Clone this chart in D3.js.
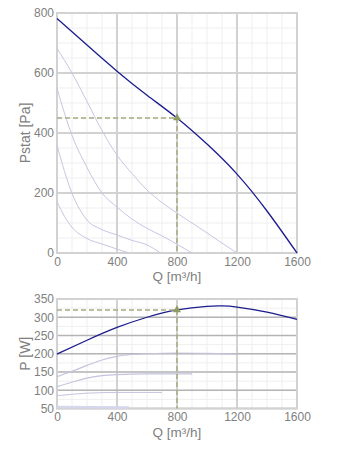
<!DOCTYPE html>
<html>
<head>
<meta charset="utf-8">
<script src="https://cdn.jsdelivr.net/npm/d3@7"></script>
<style>
  html, body { margin: 0; padding: 0; background: #fff; }
  svg { display: block; font-family: "Liberation Sans", Arial, sans-serif; }
</style>
</head>
<body>
<svg id="chart" width="350" height="454"></svg>
<script>
// Fan curves: airflow Q [m³/h] against static pressure and power
const qTicks = [0, 400, 800, 1200, 1600];
const pstatTicks = [0, 200, 400, 600, 800];
const powerTicks = [50, 100, 150, 200, 250, 300, 350];

// Static pressure at full speed [Q, Pa]
const pstatMax = [[0,782],[200,693],[400,606],[600,526],[800,450],[1000,363],[1200,263],[1400,140],[1600,0]];
// Static pressure at reduced speeds
const pstatS1 = [[0,682],[100,600],[200,505],[300,408],[400,326],[500,265],[600,210],[700,168],[800,133],[900,100],[1000,67],[1100,33],[1200,0]];
const pstatS2 = [[0,549],[100,392],[200,285],[300,200],[400,153],[500,113],[600,82],[700,57],[800,29],[900,0]];
const pstatS3 = [[0,360],[50,272],[100,199],[200,110],[300,78],[400,60],[500,42],[600,27],[690,0]];
const pstatS4 = [[0,171],[50,122],[100,86],[200,48],[300,30],[400,13],[480,0]];

// Power input at full speed [Q, W]
const powerMax = [[0,199],[200,237],[400,272],[600,300],[800,320],[1000,330],[1100,331],[1200,328],[1400,314],[1600,294]];
// Power input at reduced speeds
const powerS1 = [[0,137],[100,152],[200,168],[300,183],[400,193],[500,198],[600,200],[800,202],[1000,201],[1200,199]];
const powerS2 = [[0,110],[100,122],[200,133],[300,140],[400,143],[600,145],[900,145]];
const powerS3 = [[0,85],[100,89],[200,92],[400,94],[700,94]];
const powerS4 = [[0,54],[480,53]];

// Operating point
const opQ = 800, opPstat = 450, opPower = 320;

const svg = d3.select("#chart");
const left = 57, right = 297;

function panel(cfg) {
  const x = d3.scaleLinear().domain([0, 1600]).range([left, right]);
  const y = d3.scaleLinear().domain(cfg.yDomain).range([cfg.bottom, cfg.top]);
  const g = svg.append("g");

  // minor grid
  g.selectAll(".mx").data(d3.range(0, 1601, 100)).join("line")
    .attr("x1", d => x(d)).attr("x2", d => x(d))
    .attr("y1", cfg.top).attr("y2", cfg.bottom)
    .attr("stroke", "#efefef").attr("stroke-width", 1);
  g.selectAll(".my").data(d3.range(cfg.yDomain[0], cfg.yDomain[1] + 0.1, cfg.yMinor)).join("line")
    .attr("y1", d => y(d)).attr("y2", d => y(d))
    .attr("x1", left).attr("x2", right)
    .attr("stroke", "#efefef").attr("stroke-width", 1);

  // major grid
  g.selectAll(".Mx").data(qTicks).join("line")
    .attr("x1", d => x(d)).attr("x2", d => x(d))
    .attr("y1", cfg.top).attr("y2", cfg.bottom)
    .attr("stroke", "#d2d2d2").attr("stroke-width", 2);
  g.selectAll(".My").data(cfg.yTicks).join("line")
    .attr("y1", d => y(d)).attr("y2", d => y(d))
    .attr("x1", left).attr("x2", right)
    .attr("stroke", cfg.hColor).attr("stroke-width", cfg.hWidth);
  // frame
  g.append("rect").attr("x", left).attr("y", cfg.top)
    .attr("width", right - left).attr("height", cfg.bottom - cfg.top)
    .attr("fill", "none").attr("stroke", "#d2d2d2").attr("stroke-width", 2);

  // tick labels via d3 axes
  const yAxis = g.append("g").attr("transform", `translate(${left},0)`)
    .call(d3.axisLeft(y).tickValues(cfg.yTicks).tickFormat(d3.format("d")).tickSize(0).tickPadding(3));
  const xAxis = g.append("g").attr("transform", `translate(0,${cfg.bottom})`)
    .call(d3.axisBottom(x).tickValues(qTicks).tickFormat(d3.format("d")).tickSize(0).tickPadding(3));
  [yAxis, xAxis].forEach(a => {
    a.select(".domain").remove();
    a.selectAll("text").attr("fill", "#808080").attr("font-size", 12)
      .attr("font-family", "Liberation Sans, Arial, sans-serif");
  });
  xAxis.selectAll("text").attr("dy", "0.8em");

  g.append("text").attr("x", (left + right) / 2).attr("y", cfg.bottom + 28)
    .attr("text-anchor", "middle").attr("fill", "#808080").attr("font-size", 13.5)
    .text("Q [m³/h]");
  g.append("text")
    .attr("transform", `translate(${cfg.yLabelX},${(cfg.top + cfg.bottom) / 2}) rotate(-90)`)
    .attr("text-anchor", "middle").attr("fill", "#808080").attr("font-size", 14)
    .text(cfg.yLabel);

  const line = d3.line().x(d => x(d[0])).y(d => y(d[1])).curve(d3.curveMonotoneX);
  const smooth = d3.line().x(d => x(d[0])).y(d => y(d[1])).curve(d3.curveNatural);
  cfg.light.forEach((s, i) => {
    g.append("path").attr("d", line(s)).attr("fill", "none")
      .attr("stroke", cfg.lightColor[i]).attr("stroke-width", cfg.lightWidth[i]);
  });
  g.append("path").attr("d", smooth(cfg.main)).attr("fill", "none")
    .attr("stroke", "#1c1c8e").attr("stroke-width", 1.3);

  // operating point guides
  g.append("path")
    .attr("d", `M${left},${y(cfg.op)}H${x(opQ)}V${cfg.bottom}`)
    .attr("fill", "none").attr("stroke", "#a9ab82").attr("stroke-width", 1.5)
    .attr("stroke-dasharray", "5,3");
  g.append("path")
    .attr("d", d3.symbol(d3.symbolTriangle, 28)())
    .attr("transform", `translate(${x(opQ)},${y(cfg.op)})`)
    .attr("fill", "#8c9c62");
}

panel({
  top: 13, bottom: 253, yDomain: [0, 800], yTicks: pstatTicks, yMinor: 50,
  hColor: "#d2d2d2", hWidth: 2, yLabel: "Pstat [Pa]", yLabelX: 30,
  main: pstatMax, light: [pstatS1, pstatS2, pstatS3, pstatS4],
  lightColor: ["#c6c6e4", "#c6c6e4", "#c6c6e4", "#c6c6e4"], lightWidth: [1, 1, 1, 1],
  op: opPstat
});

panel({
  top: 299, bottom: 408.5, yDomain: [50, 350], yTicks: powerTicks, yMinor: 25,
  hColor: "#b4b4b4", hWidth: 1.3, yLabel: "P [W]", yLabelX: 30,
  main: powerMax, light: [powerS1, powerS2, powerS3, powerS4],
  lightColor: ["#c4c4de", "#c4c4de", "#c4c4de", "#d6d6ec"], lightWidth: [1.2, 1.2, 1, 2.5],
  op: opPower
});
</script>
</body>
</html>
